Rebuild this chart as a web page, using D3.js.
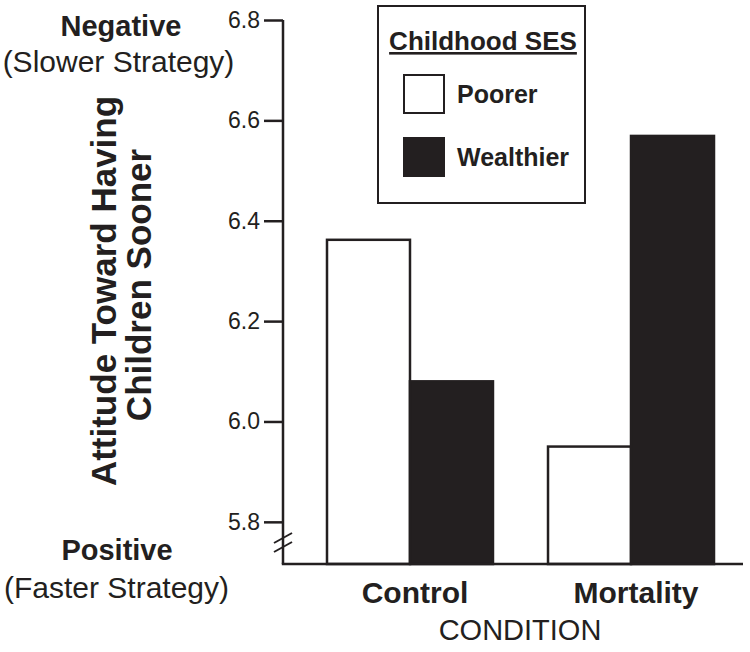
<!DOCTYPE html>
<html><head><meta charset="utf-8">
<script src="https://cdn.jsdelivr.net/npm/d3@7"></script>
<style>
html,body{margin:0;padding:0;background:#fff;}
svg text{font-family:"Liberation Sans",Arial,Helvetica,sans-serif;fill:#231f20;}
</style></head>
<body>
<svg id="chart" width="750" height="652"></svg>
<script>
const categories = ["Control", "Mortality"];
const series = ["Poorer", "Wealthier"];
const poorer = [6.362, 5.950];
const wealthier = [6.080, 6.569];
const yTicks = [5.8, 6.0, 6.2, 6.4, 6.6, 6.8];
const yTickLabels = ["5.8", "6.0", "6.2", "6.4", "6.6", "6.8"];
const seriesFill = ["#ffffff", "#231f20"];
const ink = "#231f20";

const svg = d3.select("#chart");
const axisX = 283, baseY = 564, xEnd = 743;

const y = d3.scaleLinear().domain([5.716, 6.8]).range([baseY, 20]);
const x0 = d3.scaleBand().domain(categories).range([327, 714]).paddingInner(0.249).paddingOuter(0);
const x1 = d3.scaleBand().domain(series).range([0, x0.bandwidth()]).padding(0);

const data = categories.map((c, i) => ({cat: c, vals: [poorer[i], wealthier[i]]}));

// bars
const g = svg.append("g");
data.forEach(d => {
  d.vals.forEach((v, j) => {
    g.append("rect")
      .attr("x", x0(d.cat) + x1(series[j]))
      .attr("y", y(v))
      .attr("width", x1.bandwidth())
      .attr("height", baseY - y(v))
      .attr("fill", seriesFill[j])
      .attr("stroke", ink)
      .attr("stroke-width", 2.5);
  });
});

// y axis
const yAxis = d3.axisLeft(y).tickValues(yTicks).tickFormat((d, i) => yTickLabels[i]).tickSize(19).tickPadding(4);
const ya = svg.append("g").attr("transform", `translate(${axisX},0)`).call(yAxis);
ya.attr("font-size", null).attr("font-family", null);
ya.select(".domain").remove();
ya.selectAll(".tick line").attr("stroke", ink).attr("stroke-width", 2.5);
ya.selectAll(".tick text").attr("font-size", 23).attr("fill", ink);

// axis lines
svg.append("line").attr("x1", axisX).attr("x2", axisX).attr("y1", y(6.8)).attr("y2", baseY).attr("stroke", ink).attr("stroke-width", 2.5);
svg.append("line").attr("x1", axisX - 1.2).attr("x2", xEnd).attr("y1", baseY).attr("y2", baseY).attr("stroke", ink).attr("stroke-width", 2.5);

// axis break marks
[538, 547].forEach(yy => {
  svg.append("line").attr("x1", axisX - 9).attr("y1", yy + 5).attr("x2", axisX + 9).attr("y2", yy - 5)
    .attr("stroke", ink).attr("stroke-width", 2);
});

// x category labels
categories.forEach(c => {
  svg.append("text").attr("x", x0(c) + x0.bandwidth() / 2 + 5).attr("y", 603)
    .attr("text-anchor", "middle").attr("font-size", 30).attr("font-weight", "bold").text(c);
});
svg.append("text").attr("x", 520).attr("y", 640).attr("text-anchor", "middle").attr("font-size", 29).text("CONDITION");

// y title
const yt = svg.append("text").attr("transform", "translate(0,291) rotate(-90)").attr("text-anchor", "middle")
  .attr("font-size", 35).attr("font-weight", "bold");
yt.append("tspan").attr("x", 0).attr("y", 116).text("Attitude Toward Having");
yt.append("tspan").attr("x", 6).attr("y", 151).text("Children Sooner");

// extreme labels
svg.append("text").attr("x", 121).attr("y", 36).attr("text-anchor", "middle").attr("font-size", 29).attr("font-weight", "bold").text("Negative");
svg.append("text").attr("x", 118.5).attr("y", 72).attr("text-anchor", "middle").attr("font-size", 30).text("(Slower Strategy)");
svg.append("text").attr("x", 117).attr("y", 560).attr("text-anchor", "middle").attr("font-size", 29).attr("font-weight", "bold").text("Positive");
svg.append("text").attr("x", 116.5).attr("y", 598).attr("text-anchor", "middle").attr("font-size", 30).text("(Faster Strategy)");

// legend
const lg = svg.append("g");
lg.append("rect").attr("x", 378).attr("y", 6).attr("width", 207).attr("height", 197)
  .attr("fill", "#fff").attr("stroke", ink).attr("stroke-width", 2);
lg.append("text").attr("x", 483).attr("y", 50).attr("text-anchor", "middle").attr("font-size", 26)
  .attr("font-weight", "bold").attr("text-decoration", "underline").text("Childhood SES");
series.forEach((s, j) => {
  const yy = 75 + j * 63;
  lg.append("rect").attr("x", 404).attr("y", yy).attr("width", 40).attr("height", 38)
    .attr("fill", seriesFill[j]).attr("stroke", ink).attr("stroke-width", 2);
  lg.append("text").attr("x", 457).attr("y", yy + 28).attr("font-size", 25).attr("font-weight", "bold").text(s);
});
</script>
</body></html>
